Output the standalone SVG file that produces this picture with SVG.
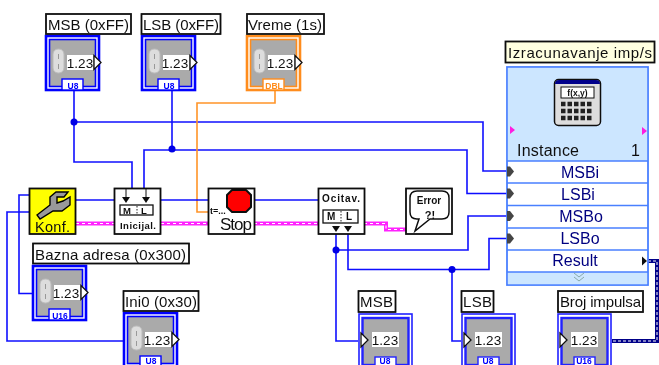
<svg xmlns="http://www.w3.org/2000/svg" width="659" height="365" viewBox="0 0 659 365">
<style>
svg>g{filter:url(#soft)}
text{font-family:"Liberation Sans",Arial,sans-serif;fill:#111}
.lbl{font-size:15px}
.box{fill:#fff;stroke:#111;stroke-width:1.8}
.w{fill:none;stroke:#0a0aff;stroke-width:1.6}
.o{fill:none;stroke:#ff9428;stroke-width:1.6}
.j{fill:#0000e6}
.pk{fill:none;stroke:#ff20ff;stroke-width:4}
.pd{fill:none;stroke:#fff;stroke-width:1.1;stroke-dasharray:3 3}
.nb{fill:none;stroke:#000088;stroke-width:4}
.nd{fill:none;stroke:#fff;stroke-width:1;stroke-dasharray:3 2}
.v{font-size:13.5px;text-anchor:middle}
.tag{font-size:8.500px;font-weight:bold;text-anchor:middle;fill:#0000ff}
.row{font-size:16px;fill:#000080;text-anchor:middle}
</style>
<defs>
<filter id="soft" filterUnits="userSpaceOnUse" x="0" y="0" width="659" height="365"><feGaussianBlur stdDeviation="0.35"/></filter>
<g id="ctl">
<rect x="1" y="1" width="53" height="54" fill="#fff" stroke="currentColor" stroke-width="2.600"/>
<rect x="4.500" y="4.500" width="46" height="47" fill="#aaa" stroke="currentColor" stroke-width="1.600"/>
<rect x="8" y="14" width="11" height="24" rx="5" fill="#ddd" stroke="#bbb"/>
<path d="M13.500 19v5M13.500 29v5" stroke="#999"/>
<rect x="22" y="20" width="26" height="15" fill="#fff"/>
<path d="M49 20.500l7 7-7 7z" fill="#fff" stroke="#111" stroke-width="1.300"/>
<rect x="17" y="44" width="21" height="11" fill="#fff" stroke="currentColor" stroke-width="1.400"/>
</g>
<g id="ind">
<rect x="1" y="1" width="53" height="54" fill="#fff" stroke="currentColor" stroke-width="1.600"/>
<rect x="4.500" y="5" width="46" height="47" fill="#aaa" stroke="currentColor" stroke-width="2.400"/>
<rect x="14" y="19" width="27" height="15" fill="#fff"/>
<path d="M3 20l7 7-7 7z" fill="#fff" stroke="#111" stroke-width="1.300"/>
<rect x="17" y="44" width="21" height="11" fill="#fff" stroke="currentColor" stroke-width="1.400"/>
</g>
<path id="arw" d="M-4 0h8l-4 6z" fill="#111"/>
<path id="trm" d="M0-5h3l4 5-4 5h-3z" fill="#444"/>
</defs>

<g id="connectors">
<path class="w" d="M74 91V162H132V188"/>
<path class="w" d="M74 122H483V171H507"/>
<path class="w" d="M172 91V150"/>
<path class="w" d="M144 188V150H467V193.500H507"/>
<path class="o" d="M275 91V103H197V212H208"/>
<path class="w" d="M76 200H114M161 200H208M254 200H318"/>
<path class="pk" d="M76 223.500H114M161 223.500H208M254 223.500H318M364 223.500H386V229.500H406"/>
<path class="pd" d="M76 223.500H114M161 223.500H208M254 223.500H318M364 223.500H386V229.500H406"/>
<path class="w" d="M29 195H19V293.500H33"/>
<path class="w" d="M29 212H7V341H123"/>
<path class="w" d="M336 234V341H358"/>
<path class="w" d="M336 250H468V216H507"/>
<path class="w" d="M348 234V269.500H489V238.500H507"/>
<path class="w" d="M452 269.500V341H461"/>
<path class="nb" d="M648 261H657V341H612"/>
<path class="nd" d="M648 261H657V341H612"/>
<circle class="j" cx="74" cy="122" r="3.500"/>
<circle class="j" cx="172" cy="149" r="3.500"/>
<circle class="j" cx="336" cy="250" r="3.500"/>
<circle class="j" cx="452" cy="269.500" r="3.500"/>
</g>

<g id="msb-ff">
<use href="#ctl" x="45" y="35" color="#0000ff"/>
<rect class="box" x="46" y="14" width="85" height="20"/>
<text class="lbl" x="48" y="30" textLength="81">MSB (0xFF)</text>
<text class="v" x="80" y="68">1.23</text>
<text class="tag" x="73" y="89">U8</text>
</g>
<g id="lsb-ff">
<use href="#ctl" x="141" y="35" color="#0000ff"/>
<rect class="box" x="141.500" y="14" width="79" height="20"/>
<text class="lbl" x="143" y="30" textLength="76">LSB (0xFF)</text>
<text class="v" x="175" y="68">1.23</text>
<text class="tag" x="169" y="89">U8</text>
</g>
<g id="vreme">
<use href="#ctl" x="246" y="35" color="#ff8c1a"/>
<rect class="box" x="247" y="14" width="77" height="20"/>
<text class="lbl" x="248" y="30" textLength="74">Vreme (1s)</text>
<text class="v" x="280" y="68">1.23</text>
<text class="tag" x="274" y="89" style="fill:#ff8c1a">DBL</text>
</g>

<g id="konf">
<rect x="29.500" y="188.500" width="46" height="45.500" fill="#ffff00" stroke="#111" stroke-width="1.800"/>
<path d="M37 215L50 205V197L56 192H68L64 197H57V203L63 201 70 197V205L62 211H53L40 219Z" fill="#999" stroke="#000" stroke-width="1.400"/>
<text x="35" y="232" font-size="14.500" textLength="35">Konf.</text>
</g>
<g id="inicijal">
<rect class="box" x="114.500" y="188.500" width="46" height="45.500"/>
<rect x="120" y="205" width="33" height="10" fill="#fff" stroke="#111" stroke-width="1.300"/>
<path d="M126 188v9M146 188v9" stroke="#111"/>
<use href="#arw" x="126" y="197"/>
<use href="#arw" x="146" y="197"/>
<path d="M137 206v8" stroke="#222" stroke-dasharray="1.500 1.500"/>
<text x="123" y="214" font-size="9.500" font-weight="bold">M</text>
<text x="141" y="214" font-size="9.500" font-weight="bold">L</text>
<text x="120" y="229" font-size="9.500" font-weight="bold" textLength="36">Inicijal.</text>
</g>
<g id="stop">
<rect class="box" x="208.500" y="188.500" width="46" height="45.500"/>
<path d="M227 195l5-5h14l5 5v12l-5 5h-14l-5-5z" fill="#f00" stroke="#111" stroke-width="2"/>
<text x="210" y="214" font-size="9" font-weight="bold">t=...</text>
<text x="220" y="229.500" font-size="17" textLength="32">Stop</text>
</g>
<g id="ocitav">
<rect class="box" x="318.500" y="188.500" width="46" height="45.500"/>
<rect x="323" y="210" width="35" height="13" fill="#fff" stroke="#111" stroke-width="1.300"/>
<text x="322" y="202" font-size="10" font-weight="bold" textLength="38">Ocitav.</text>
<use href="#arw" x="336" y="226"/>
<use href="#arw" x="348" y="226"/>
<path d="M341 211v11" stroke="#222" stroke-dasharray="1.500 1.500"/>
<text x="327" y="220" font-size="10" font-weight="bold">M</text>
<text x="346" y="220" font-size="10" font-weight="bold">L</text>
</g>
<g id="error">
<rect class="box" x="406" y="188.500" width="46" height="45.500"/>
<path d="M417 191h25q7 0 7 7v14q0 7-7 7h-12l-15 12 4-12h-2q-7 0-7-7v-14q0-7 7-7z" fill="#fff" stroke="#111" stroke-width="1.500"/>
<text x="429" y="203.500" font-size="10" font-weight="bold" text-anchor="middle">Error</text>
<text x="430" y="219" font-size="11" font-weight="bold" text-anchor="middle">?!</text>
</g>

<g id="bazna">
<use href="#ctl" x="32" y="265" color="#0000ff"/>
<rect class="box" x="33" y="243.500" width="156" height="20"/>
<text class="lbl" x="35" y="259.500" textLength="151">Bazna adresa (0x300)</text>
<text class="v" x="66" y="298">1.23</text>
<text class="tag" x="60" y="319">U16</text>
</g>
<g id="ini0">
<use href="#ctl" x="123" y="312" color="#0000ff"/>
<rect class="box" x="123.500" y="291" width="75" height="20"/>
<text class="lbl" x="125" y="307" textLength="72">Ini0 (0x30)</text>
<text class="v" x="157" y="345">1.23</text>
<text class="tag" x="151" y="364">U8</text>
</g>
<g id="msb">
<use href="#ind" x="358" y="313" color="#2222ff"/>
<rect class="box" x="358.500" y="291" width="37" height="21"/>
<text class="lbl" x="360" y="307" textLength="33">MSB</text>
<text class="v" x="385" y="345">1.23</text>
<text class="tag" x="385" y="364">U8</text>
</g>
<g id="lsb">
<use href="#ind" x="461" y="313" color="#2222ff"/>
<rect class="box" x="461.500" y="291" width="32" height="21"/>
<text class="lbl" x="463" y="307" textLength="29">LSB</text>
<text class="v" x="488" y="345">1.23</text>
<text class="tag" x="488" y="364">U8</text>
</g>
<g id="broj">
<use href="#ind" x="557" y="313" color="#2222ff"/>
<rect class="box" x="558" y="291" width="85" height="21"/>
<text class="lbl" x="560" y="307" textLength="81">Broj impulsa</text>
<text class="v" x="584" y="345">1.23</text>
<text class="tag" x="584" y="364">U16</text>
</g>

<g id="formula">
<rect x="505.500" y="41.500" width="149" height="21" fill="#ffffe0" stroke="#111" stroke-width="1.800"/>
<text class="lbl" x="508" y="58" textLength="144">Izracunavanje imp/s</text>
<rect x="507" y="67" width="141" height="218" fill="#fff" stroke="#4a80ff" stroke-width="1.800"/>
<rect x="507.900" y="67.900" width="139.200" height="93.100" fill="#cce6ff"/>
<rect x="507.900" y="272" width="139.200" height="12.200" fill="#cce6ff"/>
<path d="M507 161H648M507 183H648M507 205.500H648M507 228H648M507 250H648M507 272H648" stroke="#4a80ff" stroke-width="1.600" fill="none"/>
<rect x="554.500" y="79.500" width="46" height="46" rx="4" fill="#ddd" stroke="#111" stroke-width="1.500"/>
<path d="M555 84q0-4 4-4h37q4 0 4 4z" fill="#00008b"/>
<rect x="561" y="87" width="33" height="11" fill="#fff" stroke="#111"/>
<text x="577.500" y="96" font-size="8.500" font-weight="bold" text-anchor="middle">f(x,y)</text>
<path d="M561 104h32M561 111h32M561 118h32" stroke="#222" stroke-width="4.500" stroke-dasharray="4.500 2"/>
<path d="M510 126l5 4-5 4z M642 127l5 4-5 4z" fill="#ff1ae0"/>
<text x="517" y="156" font-size="16" textLength="62">Instance</text>
<text x="631" y="156" font-size="16">1</text>
<text class="row" x="580" y="178">MSBi</text>
<text class="row" x="578" y="199.500">LSBi</text>
<text class="row" x="581" y="222">MSBo</text>
<text class="row" x="580" y="244">LSBo</text>
<text class="row" x="575" y="266">Result</text>
<use href="#trm" x="507" y="171.500"/>
<use href="#trm" x="507" y="193.500"/>
<use href="#trm" x="507" y="216"/>
<use href="#trm" x="507" y="238.500"/>
<path d="M642 256.500l5 4.500-5 4.500z" fill="#111"/>
<path d="M574 273l5 4 5-4M574 277l5 4 5-4" fill="none" stroke="#8aa" stroke-width="1"/>
</g>
</svg>
